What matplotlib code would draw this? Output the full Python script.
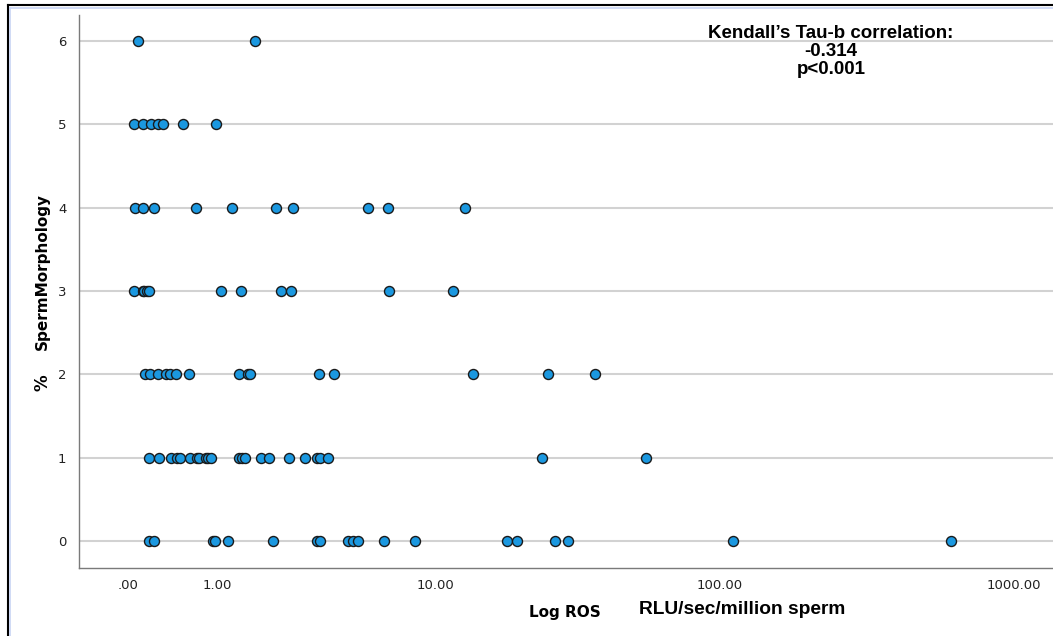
import matplotlib.pyplot as plt
from matplotlib.lines import Line2D
from matplotlib.ticker import FixedLocator, NullLocator
import numpy as np

# ROS (RLU/sec/million sperm) for each morphology level
ros_0 = [0.18, 0.22, 0.94, 0.97, 1.18, 2.10, 3.37, 3.47, 4.56, 4.78, 5.01,
         6.36, 8.37, 18.2, 19.8, 26.9, 29.9, 110.9, 611.0]
ros_1 = [0.18, 0.27, 0.40, 0.47, 0.50, 0.62, 0.71, 0.74, 0.84, 0.87, 0.91,
         1.38, 1.43, 1.49, 1.82, 2.00, 2.51, 2.98, 3.37, 3.47, 3.76, 24.2, 55.8]
ros_2 = [0.14, 0.19, 0.26, 0.35, 0.39, 0.45, 0.61, 1.38, 1.55, 1.59, 3.44,
         3.99, 13.7, 25.4, 37.2]
ros_3 = [0.05, 0.12, 0.13, 0.16, 0.18, 1.07, 1.41, 2.30, 2.56, 6.65, 11.6]
ros_4 = [0.06, 0.12, 0.22, 0.70, 1.25, 2.17, 2.62, 5.50, 6.60, 12.8]
ros_5 = [0.05, 0.12, 0.20, 0.26, 0.31, 0.54, 0.99]
ros_6 = [0.08, 1.69]
morph_levels = [0, 1, 2, 3, 4, 5, 6]

x_ticks = [0, 1, 10, 100, 1000]
x_tick_labels = ['.00', '1.00', '10.00', '100.00', '1000.00']

groups = [ros_0, ros_1, ros_2, ros_3, ros_4, ros_5, ros_6]
xs = np.concatenate([np.array(g) for g in groups])
ys = np.concatenate([np.full(len(g), lv) for g, lv in zip(groups, morph_levels)])


# escala log10(x + 1), para que o zero apareça no eixo
def fwd(x):
    return np.log10(np.clip(np.asarray(x, dtype=float) + 1, 1e-6, None))


def inv(y):
    return 10 ** np.asarray(y, dtype=float) - 1


fig = plt.figure(figsize=(10.53, 6.36), dpi=100)
ax = fig.add_axes([0.075, 0.107, 0.925, 0.869])

ax.set_xscale('function', functions=(fwd, inv))
ax.set_xlim(inv(-0.166), inv(3.132))
ax.set_ylim(-0.324, 6.31)

ax.scatter(xs, ys, s=52, color='#1b98e0', edgecolors='#1a1a1a',
           linewidths=1.0, zorder=3, clip_on=False)

# grade horizontal
ax.yaxis.grid(True, color='#d2d2d2', linewidth=1.5, zorder=0)
ax.set_axisbelow(True)

ax.xaxis.set_major_locator(FixedLocator(x_ticks))
ax.xaxis.set_minor_locator(NullLocator())
ax.set_xticklabels(x_tick_labels)
ax.set_yticks(morph_levels)
ax.tick_params(axis='both', length=0, labelsize=9.5, colors='#222222')
ax.tick_params(axis='x', pad=8)
ax.tick_params(axis='y', pad=9)

for side in ['top', 'right']:
    ax.spines[side].set_visible(False)
for side in ['left', 'bottom']:
    ax.spines[side].set_color('#7a7a7a')
    ax.spines[side].set_linewidth(1.0)

# títulos dos eixos
fig.text(42 / 1053, 1 - 271 / 636, 'SpermMorphology', rotation=90,
         ha='center', va='center', fontsize=11, fontweight='bold',
         family='DejaVu Sans')
fig.text(43 / 1053, 1 - 383 / 636, '%', rotation=90, ha='center',
         va='center', fontsize=12, fontweight='bold', family='DejaVu Sans')
fig.text(565 / 1053, 1 - 612 / 636, 'Log ROS', ha='center', va='center',
         fontsize=11, fontweight='bold', family='DejaVu Sans')
fig.text(742 / 1053, 1 - 609 / 636, 'RLU/sec/million sperm', ha='center',
         va='center', fontsize=13.8, fontweight='bold', family='Liberation Sans')

# anotação da correlação
for txt, ypix in [('Kendall\u2019s Tau-b correlation:', 33),
                  ('-0.314', 51), ('p<0.001', 69)]:
    fig.text(831 / 1053, 1 - ypix / 636, txt, ha='center', va='center',
             fontsize=13.5, fontweight='bold', family='Liberation Sans')

# moldura
fig.add_artist(Line2D([7.5 / 1053, 7.5 / 1053], [0, 1 - 5 / 636],
                      transform=fig.transFigure, color='black', lw=1.5))
fig.add_artist(Line2D([7.5 / 1053, 1], [1 - 5 / 636, 1 - 5 / 636],
                      transform=fig.transFigure, color='black', lw=1.5))
fig.add_artist(Line2D([10 / 1053, 10 / 1053], [0, 1 - 8 / 636],
                      transform=fig.transFigure, color='#c8d4f4', lw=1.2))
fig.add_artist(Line2D([10 / 1053, 1], [1 - 8 / 636, 1 - 8 / 636],
                      transform=fig.transFigure, color='#c8d4f4', lw=1.2))

fig.savefig('out.png', dpi=100)
